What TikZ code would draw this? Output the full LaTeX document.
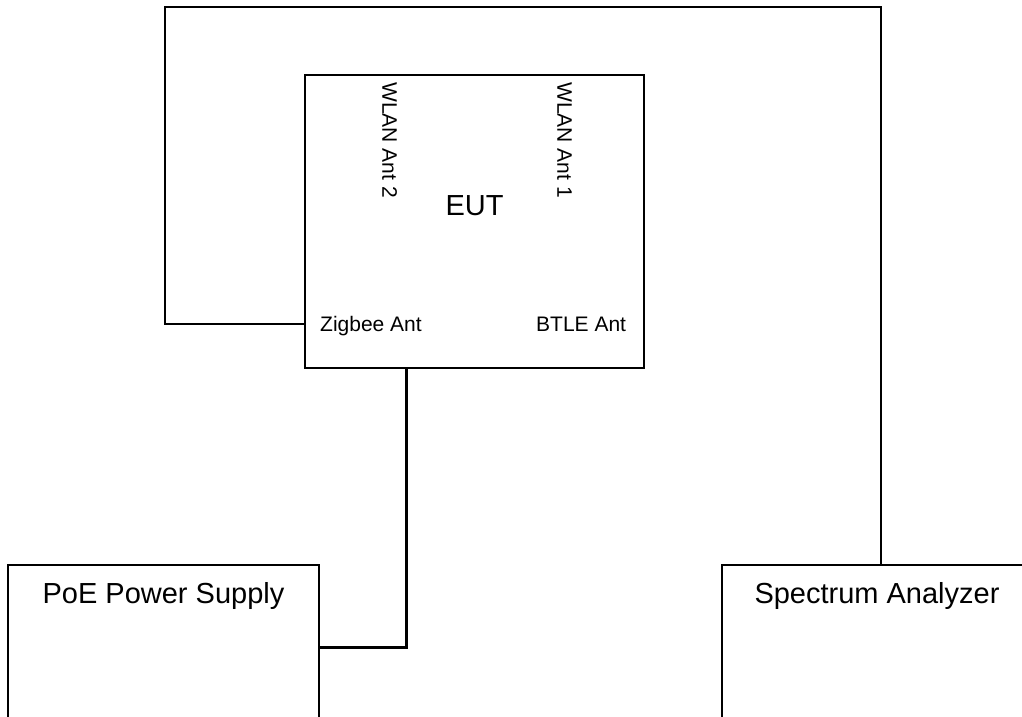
\documentclass[tikz,border=0pt]{standalone}
\usepackage{fontspec}
\setmainfont{Liberation Sans}
\begin{document}
\begin{tikzpicture}[x=1pt,y=-1pt,
  box/.style={draw,line width=1.6pt,inner sep=0pt},
  lbl/.style={inner sep=0pt,font=\fontsize{21}{25}\selectfont},
  big/.style={inner sep=0pt,font=\fontsize{29}{34}\selectfont},
  wire/.style={line width=1.3pt},
  power/.style={line width=3pt}]
\clip (0,0) rectangle (1022,717);
% boxes
\node[box,minimum width=339pt,minimum height=293pt] (eut) at (474.5,221.5) {};
\node[box,minimum width=311pt,minimum height=195pt] (poe) at (163.5,662.5) {};
\node[box,minimum width=310pt,minimum height=195pt] (spec) at (877,662.5) {};
% texts
\node[big,anchor=base] (euttxt) at (474.5,215) {EUT};
\node[big,anchor=base] (poetxt) at (163.5,603) {PoE Power Supply};
\node[big,anchor=base] (spectxt) at (877,603) {Spectrum Analyzer};
\node[lbl,anchor=base west] (zig) at (320,331) {Zigbee Ant};
\node[lbl,anchor=base west] (btle) at (536,331) {BTLE Ant};
\node[lbl,rotate=-90,anchor=west] (wlan2) at (389.5,82) {WLAN Ant 2};
\node[lbl,rotate=-90,anchor=west] (wlan1) at (564.5,82) {WLAN Ant 1};
% connectors
\coordinate (ztap) at (165,324);
\coordinate (ttop) at (881,7);
\coordinate (pin) at (406,647);
\draw[wire] (eut.west |- ztap) -- (ztap) |- (ttop) -- (spec.north -| ttop);
\draw[power] (eut.south -| pin) -- (pin) -- (poe.east |- pin);
\end{tikzpicture}
\end{document}
